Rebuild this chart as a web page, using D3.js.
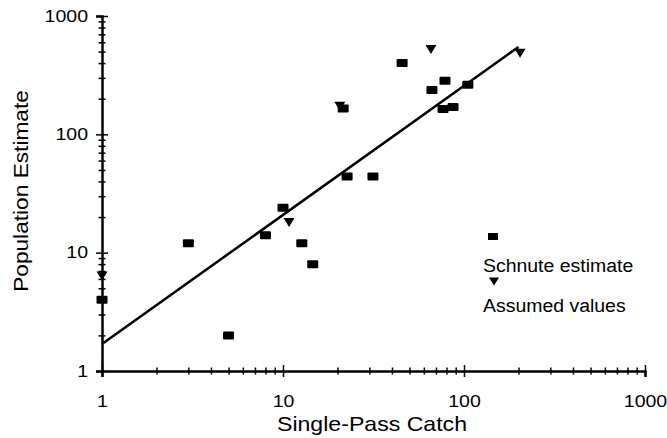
<!DOCTYPE html>
<html>
<head>
<meta charset="utf-8">
<script src="https://cdn.jsdelivr.net/npm/d3@7"></script>
<style>
  body { margin: 0; background: #fff; }
  svg { display: block; font-family: "Liberation Sans", Arial, sans-serif; }
</style>
</head>
<body>
<svg width="667" height="438"></svg>
<script>
// Schnute estimates (squares)
const schnuteX = [1, 5, 3, 8, 12.7, 14.6, 10, 22.6, 31.4, 45.5, 21.5, 66.5, 78.5, 105, 76.6, 87];
const schnuteY = [4, 2, 12, 14, 12, 8, 24, 44, 44, 400, 165, 237, 283, 262, 164, 170];
// Assumed values (triangles)
const assumedX = [1, 10.8, 20.6, 65.7, 204];
const assumedY = [6.4, 18.2, 174, 527, 490];
// fitted line end points
const fitX = [1, 200];
const fitY = [1.69, 548];
const decades = [1, 10, 100, 1000];

const svg = d3.select("svg");
const plotLeft = 102, plotRight = 645, plotTop = 16, plotBottom = 371;

const x = d3.scaleLog().domain([1, 1000]).range([plotLeft, plotRight]);
const y = d3.scaleLog().domain([1, 1000]).range([plotBottom, plotTop]);

// stretch text a bit horizontally like the scan
function stretch(sel, k) {
    sel.each(function () {
        const w = this.getComputedTextLength();
        if (w > 0) {
            this.setAttribute("textLength", w * k);
            this.setAttribute("lengthAdjust", "spacingAndGlyphs");
        }
    });
}

const allTicks = x.ticks();
const fmt = d => decades.includes(d) ? String(d) : "";

// x axis
const gx = svg.append("g")
    .attr("transform", `translate(0,${plotBottom})`)
    .call(d3.axisBottom(x).tickValues(allTicks).tickFormat(fmt)
        .tickSizeOuter(0).tickSize(6).tickPadding(19));

// y axis
const gy = svg.append("g")
    .attr("transform", `translate(${plotLeft},0)`)
    .call(d3.axisLeft(y).tickValues(allTicks).tickFormat(fmt)
        .tickSizeOuter(0).tickSize(6).tickPadding(8));

// ticks cross the axis line, majors longer
gx.selectAll(".tick line")
    .attr("y1", d => decades.includes(d) ? -6 : -3.5)
    .attr("y2", d => decades.includes(d) ? 6 : 3.5);
gy.selectAll(".tick line")
    .attr("x1", d => decades.includes(d) ? -6 : -3.5)
    .attr("x2", d => decades.includes(d) ? 6 : 3.5);

[gx, gy].forEach(g => {
    g.select(".domain").attr("stroke", "#000").attr("stroke-width", 2.5);
    g.selectAll(".tick line").attr("stroke", "#000").attr("stroke-width", 1.5);
    g.selectAll(".tick text")
        .attr("fill", "#000")
        .style("font-size", "16px")
        .style("font-family", "'Liberation Sans', Arial, sans-serif")
        .call(stretch, 1.22);
});

// axis titles
svg.append("text")
    .attr("x", 372)
    .attr("y", 431)
    .attr("text-anchor", "middle")
    .style("font-size", "21px")
    .text("Single-Pass Catch")
    .call(stretch, 1.1);

svg.append("text")
    .attr("transform", "translate(28,191) rotate(-90)")
    .attr("text-anchor", "middle")
    .style("font-size", "21px")
    .text("Population Estimate")
    .call(stretch, 1.08);

// fitted line
svg.append("path")
    .datum(fitX.map((d, i) => [d, fitY[i]]))
    .attr("fill", "none")
    .attr("stroke", "#000")
    .attr("stroke-width", 2.5)
    .attr("d", d3.line().x(d => x(d[0])).y(d => y(d[1])));

// squares
svg.selectAll(".sq")
    .data(schnuteX.map((d, i) => [d, schnuteY[i]]))
    .enter()
    .append("rect")
    .attr("class", "sq")
    .attr("x", d => x(d[0]) - 5.5)
    .attr("y", d => y(d[1]) - 4)
    .attr("width", 11)
    .attr("height", 8)
    .attr("rx", 1)
    .attr("fill", "#000");

const tri = "M-5.5,-4L5.5,-4L0,5Z";

// triangles
svg.selectAll(".tri")
    .data(assumedX.map((d, i) => [d, assumedY[i]]))
    .enter()
    .append("path")
    .attr("class", "tri")
    .attr("transform", d => `translate(${x(d[0])},${y(d[1])})`)
    .attr("d", tri)
    .attr("fill", "#000");

// legend
const legend = svg.append("g");
legend.append("rect")
    .attr("x", 488).attr("y", 233)
    .attr("width", 10).attr("height", 7)
    .attr("fill", "#000");
legend.append("text")
    .attr("x", 483).attr("y", 272)
    .style("font-size", "18px")
    .text("Schnute estimate")
    .call(stretch, 1.08);
legend.append("path")
    .attr("transform", "translate(494,281)")
    .attr("d", "M-5,-3.5L5,-3.5L0,4.5Z")
    .attr("fill", "#000");
legend.append("text")
    .attr("x", 483).attr("y", 312)
    .style("font-size", "18px")
    .text("Assumed values")
    .call(stretch, 1.08);
</script>
</body>
</html>
